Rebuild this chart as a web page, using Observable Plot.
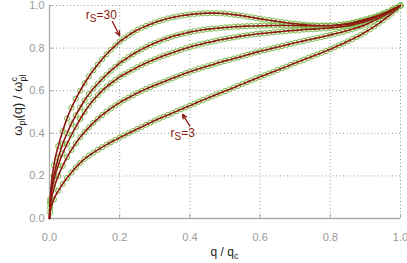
<!DOCTYPE html>
<html>
<head>
<meta charset="utf-8">
<script src="https://cdn.jsdelivr.net/npm/d3@7"></script>
<script src="https://cdn.jsdelivr.net/npm/@observablehq/plot@0.6"></script>
<style>
  html, body { margin: 0; padding: 0; background: #fff; }
</style>
</head>
<body>
<div id="chart"></div>
<script>
// sampled q/q_c positions of the data points
const q = [0.002,0.0125,0.025,0.0375,0.05,0.0625,0.075,0.0875,0.1,0.1125,0.125,0.1375,0.15,0.1625,0.175,0.1875,0.2,0.2125,0.225,0.2375,0.25,0.2625,0.275,0.2875,0.3,0.3125,0.325,0.3375,0.35,0.3625,0.375,0.3875,0.4,0.4125,0.425,0.4375,0.45,0.4625,0.475,0.4875,0.5,0.5125,0.525,0.5375,0.55,0.5625,0.575,0.5875,0.6,0.6125,0.625,0.6375,0.65,0.6625,0.675,0.6875,0.7,0.7125,0.725,0.7375,0.75,0.7625,0.775,0.7875,0.8,0.8125,0.825,0.8375,0.85,0.8625,0.875,0.8875,0.9,0.9125,0.925,0.9375,0.95,0.9625,0.975,0.9875,1];

// omega_pl(q)/omega_pl^c, top curve (r_S=30) to bottom curve (r_S=3)
const curveRs30 = [0.09,0.25,0.34,0.41,0.47,0.52,0.562,0.6,0.635,0.667,0.696,0.723,0.748,0.771,0.792,0.812,0.83,0.846,0.86,0.873,0.885,0.895,0.904,0.912,0.92,0.927,0.933,0.939,0.944,0.948,0.952,0.955,0.958,0.96,0.962,0.963,0.964,0.964,0.964,0.963,0.962,0.96,0.957,0.955,0.952,0.948,0.945,0.941,0.938,0.934,0.931,0.928,0.925,0.922,0.919,0.916,0.914,0.912,0.91,0.908,0.907,0.906,0.906,0.906,0.906,0.907,0.909,0.912,0.915,0.919,0.924,0.929,0.935,0.941,0.947,0.954,0.962,0.97,0.98,0.99,1];
const curve2 = [0.08,0.2,0.285,0.35,0.4,0.445,0.485,0.521,0.555,0.584,0.61,0.633,0.655,0.675,0.694,0.712,0.729,0.744,0.758,0.771,0.783,0.794,0.805,0.815,0.824,0.832,0.84,0.847,0.854,0.86,0.865,0.87,0.875,0.879,0.883,0.886,0.889,0.891,0.893,0.895,0.897,0.898,0.9,0.901,0.902,0.903,0.904,0.904,0.905,0.905,0.906,0.906,0.906,0.906,0.906,0.906,0.906,0.906,0.905,0.905,0.905,0.905,0.905,0.905,0.905,0.906,0.908,0.91,0.912,0.916,0.92,0.925,0.93,0.936,0.943,0.951,0.96,0.969,0.979,0.989,1];
const curve3 = [0.07,0.18,0.25,0.305,0.35,0.392,0.43,0.467,0.5,0.53,0.556,0.579,0.6,0.618,0.635,0.65,0.665,0.677,0.688,0.699,0.71,0.72,0.73,0.739,0.748,0.756,0.764,0.771,0.778,0.785,0.792,0.799,0.805,0.811,0.816,0.821,0.826,0.83,0.835,0.839,0.843,0.847,0.85,0.854,0.857,0.86,0.863,0.866,0.868,0.87,0.872,0.874,0.876,0.878,0.88,0.882,0.883,0.885,0.887,0.888,0.889,0.89,0.892,0.893,0.895,0.897,0.899,0.902,0.905,0.909,0.914,0.919,0.925,0.932,0.94,0.949,0.958,0.968,0.978,0.989,1];
const curve4 = [0.05,0.14,0.2,0.247,0.287,0.322,0.353,0.381,0.406,0.428,0.449,0.468,0.486,0.502,0.517,0.531,0.544,0.556,0.567,0.578,0.589,0.599,0.608,0.617,0.626,0.634,0.642,0.65,0.658,0.666,0.674,0.682,0.689,0.696,0.703,0.709,0.715,0.721,0.728,0.734,0.74,0.745,0.751,0.756,0.762,0.768,0.774,0.78,0.785,0.79,0.795,0.8,0.805,0.81,0.815,0.82,0.825,0.83,0.834,0.839,0.843,0.848,0.852,0.857,0.862,0.867,0.872,0.877,0.883,0.889,0.895,0.902,0.91,0.919,0.929,0.939,0.95,0.961,0.974,0.987,1];
const curveRs3 = [0.03,0.09,0.13,0.162,0.19,0.216,0.24,0.261,0.28,0.295,0.309,0.322,0.335,0.347,0.358,0.369,0.38,0.39,0.4,0.41,0.42,0.43,0.44,0.45,0.46,0.469,0.478,0.486,0.495,0.504,0.513,0.521,0.53,0.539,0.548,0.556,0.565,0.573,0.582,0.59,0.598,0.606,0.615,0.623,0.632,0.64,0.648,0.657,0.665,0.673,0.681,0.689,0.697,0.705,0.713,0.722,0.73,0.738,0.746,0.754,0.762,0.77,0.778,0.786,0.795,0.804,0.813,0.822,0.832,0.842,0.852,0.863,0.875,0.888,0.901,0.915,0.93,0.946,0.962,0.98,1];

const seriesNames = ["rs30", "c2", "c3", "c4", "rs3"];
const seriesValues = [curveRs30, curve2, curve3, curve4, curveRs3];

const ticks = [0, 0.2, 0.4, 0.6, 0.8, 1.0];

// annotations: label number, arrow tail (q,v), arrow tip (q,v), text anchor (q,v)
const annotations = [
  {num: "30", q1: 0.179, v1: 0.925, q2: 0.2, v2: 0.858, tq: 0.149, tv: 0.935},
  {num: "3",  q1: 0.4,   v1: 0.434, q2: 0.379, v2: 0.489, tq: 0.381, tv: 0.38}
];

const points = seriesNames.flatMap((s, k) => q.map((x, i) => ({s, q: x, v: seriesValues[k][i]})));
const linePts = seriesNames.flatMap((s, k) => [{s, q: 0, v: 0}, ...q.map((x, i) => ({s, q: x, v: seriesValues[k][i]}))]);

const red = "#8c1a10";
const green = "#7ab845";
const font = "'Liberation Sans', Arial, Helvetica, sans-serif";

const chart = Plot.plot({
  width: 407,
  height: 263,
  marginLeft: 49,
  marginRight: 7,
  marginTop: 5,
  marginBottom: 45,
  x: {domain: [0, 1]},
  y: {domain: [0, 1]},
  style: {fontFamily: font, background: "white"},
  marks: [
    Plot.gridX(ticks, {stroke: "#999", strokeOpacity: 1, strokeDasharray: "1,2.5", strokeWidth: 1}),
    Plot.gridY(ticks, {stroke: "#999", strokeOpacity: 1, strokeDasharray: "1,2.5", strokeWidth: 1}),
    Plot.ruleX(ticks, {x: d => d, y1: 0, y2: 0, insetTop: -4, stroke: "#aaa"}),
    Plot.ruleY(ticks, {y: d => d, x1: 0, x2: 0, insetRight: -4, stroke: "#aaa"}),
    Plot.ruleX([0], {stroke: "#aaa", strokeWidth: 1.3}),
    Plot.ruleY([0], {stroke: "#aaa", strokeWidth: 1.3}),
    Plot.axisX(ticks, {tickSize: 0, tickPadding: 15, tickFormat: d3.format(".1f"), fontSize: 11, color: "#999", label: null}),
    Plot.axisY(ticks, {tickSize: 0, tickPadding: 5, tickFormat: d3.format(".1f"), fontSize: 11, color: "#999", label: null}),
    Plot.dot(points, {x: "q", y: "v", r: 2.6, stroke: green, fill: "none", strokeWidth: 1}),
    Plot.line(linePts, {x: "q", y: "v", z: "s", stroke: red, strokeWidth: 1.6, curve: "monotone-x"}),
    Plot.arrow(annotations, {x1: "q1", y1: "v1", x2: "q2", y2: "v2", stroke: red, strokeWidth: 1.3, headLength: 6, headAngle: 50})
  ]
});

document.getElementById("chart").appendChild(chart);

const sx = chart.scale("x"), sy = chart.scale("y");
const svg = d3.select(chart);

// annotation texts r_S=..
annotations.forEach(a => {
  const t = svg.append("text")
    .attr("x", sx.apply(a.tq))
    .attr("y", sy.apply(a.tv))
    .attr("fill", red)
    .attr("font-family", font)
    .attr("font-size", 12);
  t.append("tspan").text("r");
  t.append("tspan").attr("dy", 3).attr("font-size", 10).text("S");
  t.append("tspan").attr("dy", -3).text("=" + a.num);
});

// x axis label
const xl = svg.append("text")
  .attr("x", sx.apply(0.5))
  .attr("y", 256)
  .attr("text-anchor", "middle")
  .attr("fill", "#222")
  .attr("font-family", font)
  .attr("font-size", 12);
xl.append("tspan").text("q / q");
xl.append("tspan").attr("dy", 3).attr("font-size", 9).text("c");

// y axis label
const yl = svg.append("text")
  .attr("transform", `translate(22, ${sy.apply(0.53)}) rotate(-90)`)
  .attr("text-anchor", "middle")
  .attr("fill", "#222")
  .attr("font-family", font)
  .attr("font-size", 13);
yl.append("tspan").text("ω");
yl.append("tspan").attr("dy", 3).attr("font-size", 9).text("pl");
yl.append("tspan").attr("dy", -3).text("(q) / ω");
yl.append("tspan").attr("dy", -5).attr("font-size", 9).text("c");
yl.append("tspan").attr("dx", -4.5).attr("dy", 8.5).attr("font-size", 9).text("pl");
</script>
</body>
</html>
